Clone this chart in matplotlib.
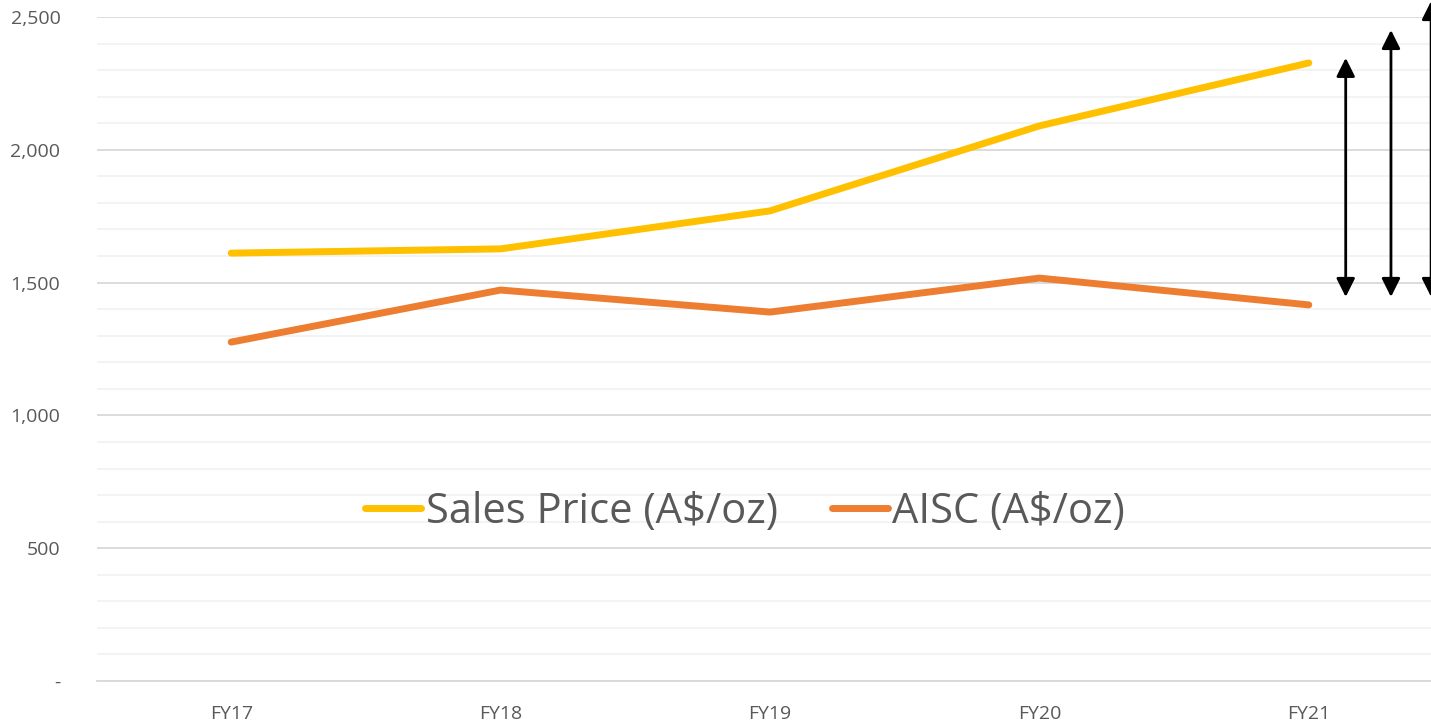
import matplotlib.pyplot as plt
from matplotlib.ticker import MultipleLocator, FuncFormatter

years = ['FY17', 'FY18', 'FY19', 'FY20', 'FY21']
sales_price = [1611, 1627, 1770, 2090, 2327]
aisc = [1276, 1472, 1389, 1517, 1416]

# double headed arrows on the right (x position, bottom, top)
arrow_x = [4.137, 4.305, 4.454]
arrow_lo = [1446, 1446, 1446]
arrow_hi = [2346, 2451, 2560]

plt.rcParams['font.family'] = ['Open Sans', 'DejaVu Sans']
txt = '#595959'

fig = plt.figure(figsize=(14.31, 7.24), dpi=100)
ax = fig.add_axes([96.5 / 1431, 43 / 724, 1347 / 1431, 664 / 724])

xs = range(len(years))
ax.plot(xs, sales_price, color='#FFC000', lw=5, solid_capstyle='round', label='Sales Price (A$/oz)')
ax.plot(xs, aisc, color='#ED7D31', lw=5, solid_capstyle='round', label='AISC (A$/oz)')

for x, lo, hi in zip(arrow_x, arrow_lo, arrow_hi):
    ax.annotate('', xy=(x, hi), xytext=(x, lo),
                arrowprops=dict(arrowstyle='<|-|>', color='black', lw=2,
                                mutation_scale=28, shrinkA=0, shrinkB=0),
                annotation_clip=False)

ax.set_xlim(-0.5, 4.5)
ax.set_ylim(0, 2500)
ax.set_xticks(list(xs))
ax.set_xticklabels(years)
ax.yaxis.set_major_locator(MultipleLocator(500))
ax.yaxis.set_minor_locator(MultipleLocator(100))
ax.yaxis.set_major_formatter(FuncFormatter(lambda v, p: '-' if v == 0 else '{:,.0f}'.format(v)))
ax.grid(axis='y', which='major', color='#D9D9D9', lw=1.3)
ax.grid(axis='y', which='minor', color='#F2F2F2', lw=1.3)
ax.set_axisbelow(True)
for s in ['top', 'right', 'left']:
    ax.spines[s].set_visible(False)
ax.spines['bottom'].set_color('#D9D9D9')
ax.spines['bottom'].set_linewidth(1.3)
ax.tick_params(axis='both', which='both', length=0, colors=txt, labelsize=14)
ax.tick_params(axis='y', pad=26)
ax.tick_params(axis='x', pad=17)

fig.legend(loc='center', bbox_to_anchor=(745 / 1431, 1 - 512 / 724), ncol=2, frameon=False,
           fontsize=30, labelcolor=txt, handlelength=1.35, handletextpad=0.1, columnspacing=1.3)

fig.savefig('out.png', dpi=100)
